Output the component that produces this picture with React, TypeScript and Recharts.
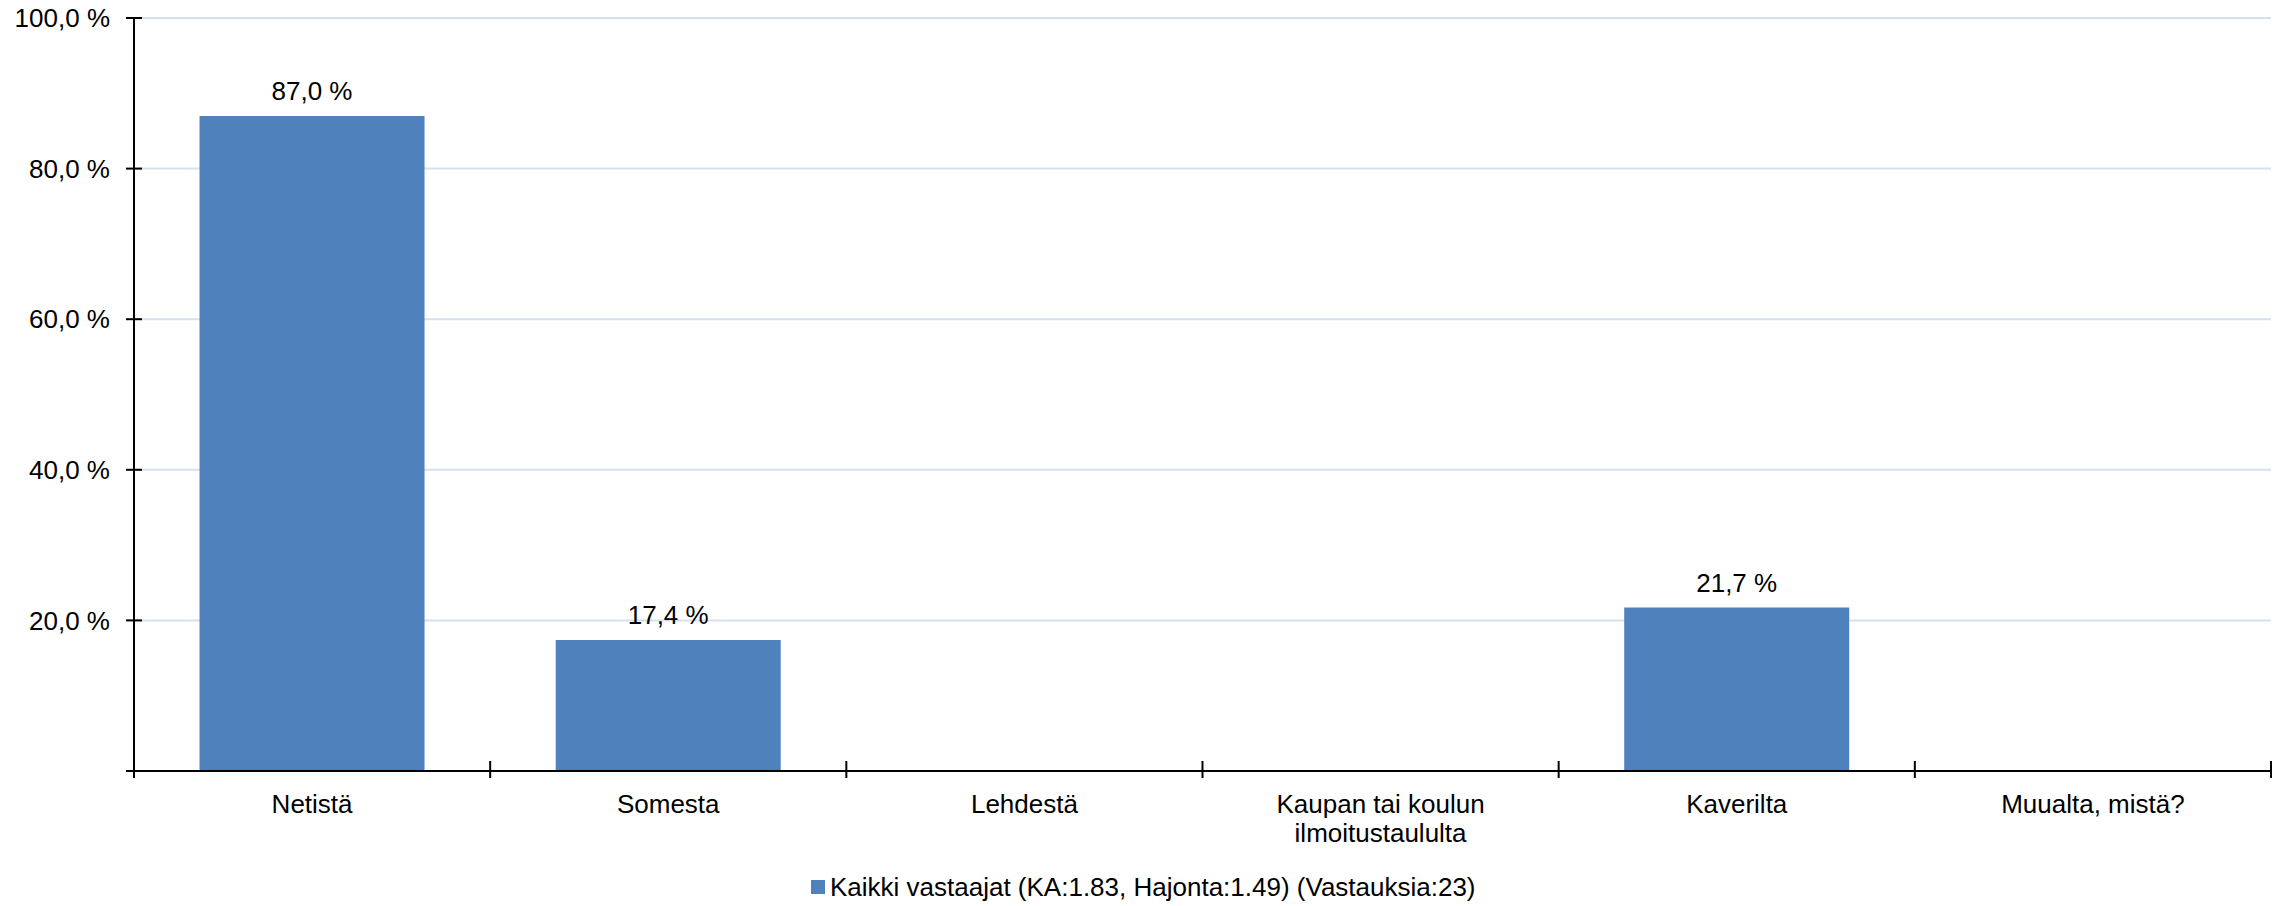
import React from "react";
import { BarChart, Bar, XAxis, YAxis, CartesianGrid, Legend, LabelList } from "recharts";

const categories = ["Netistä", "Somesta", "Lehdestä", "Kaupan tai koulun\nilmoitustaululta", "Kaverilta", "Muualta, mistä?"];
const values = [87.0, 17.4, 0, 0, 21.7, 0];
const yTicks = [0, 20, 40, 60, 80, 100];
const seriesName = "Kaikki vastaajat (KA:1.83, Hajonta:1.49) (Vastauksia:23)";

const data = categories.map((c, i) => ({ category: c, value: values[i] }));

const FONT = "'Liberation Sans', Arial, sans-serif";
const BAR = "#4F81BD";

const fmt = (v: number) => `${v.toFixed(1).replace(".", ",")} %`;

const YTick = (props: any) => {
  const { x, y, payload } = props;
  return (
    <g>
      <line x1={x - 8} x2={x + 8} y1={y} y2={y} stroke="#000" strokeWidth={2} />
      {payload.value > 0 && (
        <text x={x - 24} y={y} dy="0.35em" textAnchor="end" fontSize={26} fontFamily={FONT} fill="#000">
          {fmt(payload.value)}
        </text>
      )}
    </g>
  );
};

const XTick = (props: any) => {
  const { x, y, payload, index, visibleTicksCount } = props;
  const half = payload.offset ?? 178;
  const lines = String(payload.value).split("\n");
  const last = index === (visibleTicksCount ?? categories.length) - 1;
  return (
    <g>
      <line x1={x - half} x2={x - half} y1={y - 10} y2={y + 7} stroke="#000" strokeWidth={2} />
      {last && <line x1={x + half} x2={x + half} y1={y - 10} y2={y + 7} stroke="#000" strokeWidth={2} />}
      <text textAnchor="middle" fontSize={26} fontFamily={FONT} fill="#000">
        {lines.map((l, i) => (
          <tspan key={i} x={x} y={y + 42 + i * 29}>
            {l}
          </tspan>
        ))}
      </text>
    </g>
  );
};

const ValueLabel = (props: any) => {
  const { x, y, width, value } = props;
  if (!value) return null;
  return (
    <text x={x + width / 2} y={y - 16} textAnchor="middle" fontSize={26} fontFamily={FONT} fill="#000">
      {fmt(value)}
    </text>
  );
};

const LegendContent = () => (
  <div style={{ display: "flex", alignItems: "center", fontSize: 26, fontFamily: FONT, lineHeight: "30px", color: "#000", whiteSpace: "nowrap" }}>
    <span style={{ display: "inline-block", width: 14, height: 14, background: BAR, marginRight: 5 }} />
    <span>{seriesName}</span>
  </div>
);

export default function App() {
  return (
    <div style={{ position: "absolute", left: 0, top: 0, width: 2280, height: 906, background: "#fff" }}>
      <BarChart
        width={2280}
        height={906}
        data={data}
        margin={{ top: 18, right: 9, left: 24, bottom: 0 }}
        barCategoryGap="18.4%"
      >
        <CartesianGrid vertical={false} stroke="#D6E1EF" strokeWidth={2} />
        <XAxis
          dataKey="category"
          height={135}
          tickSize={0}
          tickMargin={0}
          tickLine={false}
          axisLine={{ stroke: "#000", strokeWidth: 2 }}
          tick={<XTick />}
          interval={0}
        />
        <YAxis
          width={110}
          domain={[0, 100]}
          ticks={yTicks}
          tickSize={0}
          tickMargin={0}
          tickLine={false}
          axisLine={{ stroke: "#000", strokeWidth: 2 }}
          tick={<YTick />}
          interval={0}
        />
        <Legend
          layout="vertical"
          align="center"
          verticalAlign="middle"
          content={<LegendContent />}
          wrapperStyle={{ position: "absolute", left: 811, top: 872, width: "auto", height: "auto" }}
        />
        <Bar dataKey="value" name={seriesName} fill={BAR} isAnimationActive={false}>
          <LabelList dataKey="value" content={<ValueLabel />} />
        </Bar>
      </BarChart>
    </div>
  );
}
